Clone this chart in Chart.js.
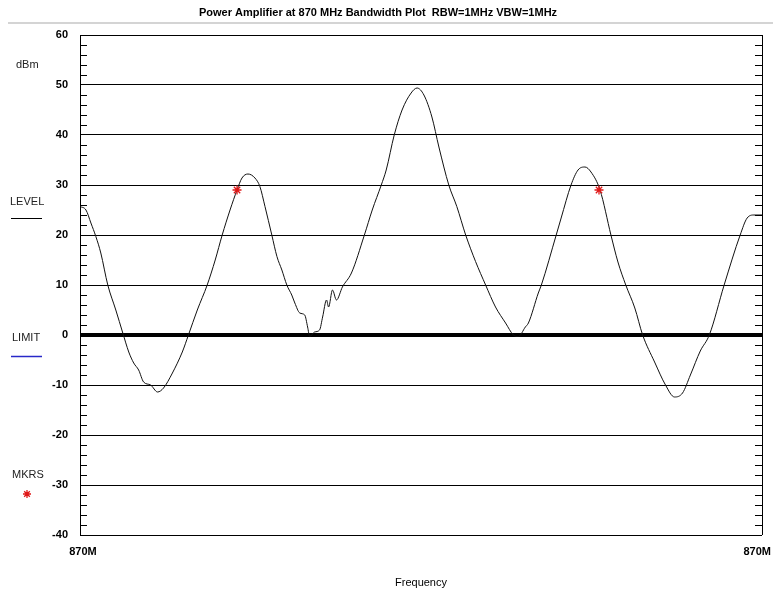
<!DOCTYPE html>
<html>
<head>
<meta charset="utf-8">
<script src="https://cdn.jsdelivr.net/npm/chart.js@4"></script>
<style>
  html, body { margin: 0; padding: 0; background: #fff; }
  #wrap { width: 773px; height: 593px; position: relative; }
</style>
</head>
<body>
<div id="wrap"><canvas id="c" width="773" height="593"></canvas></div>
<script>
// ---- data ----
const titleText = 'Power Amplifier at 870 MHz Bandwidth Plot  RBW=1MHz VBW=1MHz';
const xAxisTitle = 'Frequency';
const xTickLabels = ['870M', '870M'];
const yTickValues = [60, 50, 40, 30, 20, 10, 0, -10, -20, -30, -40];
const legendLabels = ['dBm', 'LEVEL', 'LIMIT', 'MKRS'];
const limitLevel = 0;

// sweep position (0..400 across the span) and measured level in dBm
const sweepIdx = [
  0, 3.5, 6.4, 9.3, 12.2, 16.3, 21, 25.1, 28.6, 31.5,
  34.4, 37.3, 41.4, 45.5, 49, 54.2, 60, 63.6, 68.8, 74.6,
  79.3, 83.4, 88, 92.1, 95, 98.5, 102.6, 105.5, 108.5, 112.5,
  115.5, 118.4, 121.3, 124.2, 126, 128.9, 131.8, 133.5, 134.7, 137.6,
  140.5, 142.3, 144.6, 145.8, 148.1, 150.4, 153.9, 159.2, 166.8, 171.4,
  176.7, 179.6, 184.3, 188.9, 194.2, 197.7, 201.7, 206.4, 210.5, 216.3,
  221, 226.2, 232, 237.9, 243.7, 249.6, 254.2, 257.1, 261.2, 263,
  268.8, 270.6, 279.3, 282.2, 288, 292.1, 296.2, 299.7, 305, 311.4,
  315.5, 320.1, 325.4, 330, 337, 343.4, 348.7, 353.4, 358, 363.8,
  369.1, 377.8, 387.2, 391.3, 395.3, 400
];
const levelDbm = [
  25.7, 25, 22.4, 19.7, 16.4, 10, 5, 0.4, -3.4, -5.6,
  -7, -9.4, -10, -11.4, -10.6, -7.6, -3.4, 0, 5, 10,
  15, 20, 25, 29, 31.4, 32.2, 31.4, 29.7, 25.7, 20,
  15.7, 13, 10, 8, 6.4, 4.4, 4, 1.6, -0.3, 0.6,
  1, 3.6, 7, 5.6, 9, 7, 9.6, 12.4, 20, 25,
  30, 33, 40, 45, 48.4, 49.4, 48, 43.6, 37.6, 30,
  25.7, 20, 14.7, 10, 5.6, 2.4, 0, -0.3, 1.6, 2.4,
  8.4, 10, 20, 23.4, 30, 33, 33.6, 32.6, 29, 20,
  14.6, 10, 5.4, 0, -5.4, -10, -12.4, -11.6, -8, -3.2,
  0, 10, 20, 23.4, 24, 24
];
const markerIdx = [92.1, 304.4];
const markerDbm = [29, 29];

// ---- styling ----
const FONT = "'Liberation Sans Narrow', 'Liberation Sans', Arial, sans-serif";

const tracePoints = sweepIdx.map((x, i) => ({ x: x, y: levelDbm[i] }));
const markerPoints = markerIdx.map((x, i) => ({ x: x, y: markerDbm[i] }));

const decorPlugin = {
  id: 'decor',
  afterDraw(chart) {
    const ctx = chart.ctx;
    const ys = chart.scales.y, xs = chart.scales.x;
    const ca = chart.chartArea;
    ctx.save();
    // title
    ctx.fillStyle = '#000';
    ctx.font = 'bold 11px ' + FONT;
    ctx.textAlign = 'center';
    ctx.textBaseline = 'middle';
    ctx.fillText(titleText, 378, 13);
    // gray rule
    ctx.strokeStyle = '#d4d4d4';
    ctx.lineWidth = 2;
    ctx.beginPath(); ctx.moveTo(8, 23); ctx.lineTo(773, 23); ctx.stroke();
    // minor ticks (every 2 dB) on both sides
    ctx.strokeStyle = '#000';
    ctx.lineWidth = 1;
    ctx.beginPath();
    for (let v = ys.min; v <= ys.max; v += 2) {
      if (v % 10 === 0) continue;
      const p = Math.round(ys.getPixelForValue(v)) + 0.5;
      ctx.moveTo(ca.left, p); ctx.lineTo(ca.left + 7, p);
      ctx.moveTo(ca.right - 7, p); ctx.lineTo(ca.right, p);
    }
    ctx.stroke();
    // x tick labels
    ctx.font = 'bold 11px ' + FONT;
    ctx.textBaseline = 'middle';
    ctx.textAlign = 'center';
    ctx.fillText(xTickLabels[0], xs.getPixelForValue(xs.min) + 3, 552);
    ctx.textAlign = 'right';
    ctx.fillText(xTickLabels[1], Math.min(xs.getPixelForValue(xs.max) + 10, chart.width - 2), 552);
    // x axis title
    ctx.font = '11px ' + FONT;
    ctx.textAlign = 'center';
    ctx.fillText(xAxisTitle, (ca.left + ca.right) / 2, 583);
    // left legend
    ctx.font = '11px ' + FONT;
    ctx.textAlign = 'left';
    ctx.fillStyle = '#222';
    ctx.fillText(legendLabels[0], 16, 65);
    ctx.fillText(legendLabels[1], 10, 202);
    ctx.fillText(legendLabels[2], 12, 338);
    ctx.fillText(legendLabels[3], 12, 475);
    ctx.strokeStyle = '#000';
    ctx.lineWidth = 1;
    ctx.beginPath(); ctx.moveTo(11, 218.5); ctx.lineTo(42, 218.5); ctx.stroke();
    ctx.strokeStyle = '#2828c8';
    ctx.lineWidth = 1.5;
    ctx.beginPath(); ctx.moveTo(11, 356.5); ctx.lineTo(42, 356.5); ctx.stroke();
    // marker symbol in legend
    ctx.strokeStyle = '#e01818';
    ctx.lineWidth = 1.3;
    const cx = 27, cy = 494, r = 4;
    ctx.beginPath();
    for (let k = 0; k < 4; k++) {
      const a = k * Math.PI / 4;
      ctx.moveTo(cx - r * Math.cos(a), cy - r * Math.sin(a));
      ctx.lineTo(cx + r * Math.cos(a), cy + r * Math.sin(a));
    }
    ctx.stroke();
    ctx.restore();
  }
};

new Chart(document.getElementById('c'), {
  type: 'line',
  data: {
    datasets: [
      {
        label: 'Markers',
        data: markerPoints,
        showLine: false,
        pointStyle: 'star',
        pointRadius: 4.5,
        pointBorderColor: '#e01818',
        pointBackgroundColor: '#e01818',
        pointBorderWidth: 1.3,
        order: 0
      },
      {
        label: 'Level',
        data: tracePoints,
        borderColor: '#111',
        borderWidth: 1,
        pointRadius: 0,
        cubicInterpolationMode: 'monotone',
        fill: false,
        order: 1
      }
    ]
  },
  options: {
    responsive: false,
    animation: false,
    events: [],
    layout: { padding: { left: 0, right: 11, top: 35, bottom: 58 } },
    plugins: { legend: { display: false }, title: { display: false }, tooltip: { enabled: false } },
    scales: {
      x: {
        type: 'linear',
        min: 0,
        max: 400,
        afterBuildTicks(scale) { scale.ticks = [{ value: 0 }, { value: 400 }]; },
        afterFit(scale) { scale.height = 0; },
        ticks: { display: false },
        border: { display: false },
        grid: { color: '#000', lineWidth: 1, drawTicks: false }
      },
      y: {
        min: -40,
        max: 60,
        afterBuildTicks(scale) { scale.ticks = yTickValues.map(v => ({ value: v })); },
        afterFit(scale) { scale.width = 80; },
        ticks: {
          padding: 12,
          color: '#000',
          font: { family: FONT, size: 11, weight: 'bold' }
        },
        border: { display: false },
        grid: {
          drawTicks: false,
          color: '#000',
          lineWidth: ctx => (ctx.tick && ctx.tick.value === limitLevel ? 4 : 1)
        }
      }
    }
  },
  plugins: [decorPlugin]
});
</script>
</body>
</html>
